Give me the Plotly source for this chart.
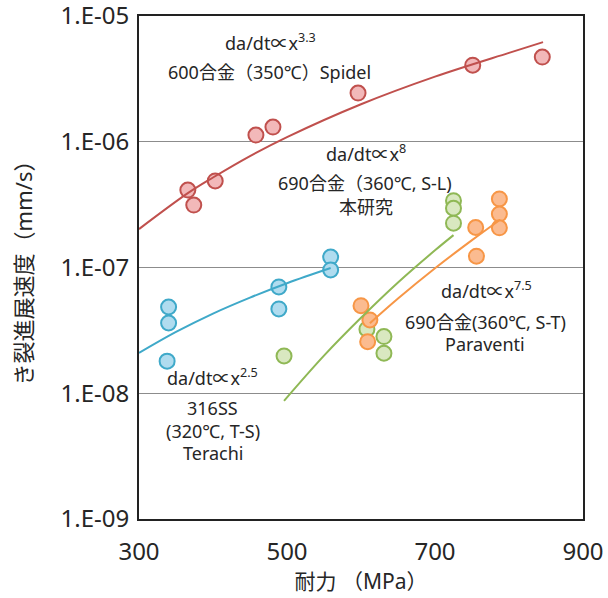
import plotly.graph_objects as go

# ---- data ----
red_x = [366, 374, 403, 458, 481, 596, 751, 845]
red_y = [4.13e-7, 3.14e-7, 4.88e-7, 1.13e-6, 1.31e-6, 2.44e-6, 4.07e-6, 4.72e-6]
red_fit_x = [300, 366, 400, 450, 500, 600, 700, 800, 846]
red_fit_y = [2.02e-7, 3.9e-7, 5.2e-7, 7.7e-7, 1.09e-6, 1.99e-6, 3.3e-6, 5.1e-6, 6.2e-6]

blue_x = [340, 340, 338, 489, 489, 559, 559]
blue_y = [4.85e-8, 3.62e-8, 1.80e-8, 7.0e-8, 4.68e-8, 1.21e-7, 9.56e-8]
blue_fit_x = [300, 350, 400, 450, 500, 559]
blue_fit_y = [2.09e-8, 3.07e-8, 4.3e-8, 5.76e-8, 7.5e-8, 9.9e-8]

green_x = [496, 608, 631, 631, 725, 725, 725]
green_y = [1.98e-8, 3.23e-8, 2.82e-8, 2.08e-8, 3.40e-7, 2.96e-7, 2.25e-7]
green_fit_x = [496, 550, 600, 650, 700, 725]
green_fit_y = [8.7e-9, 1.99e-8, 3.98e-8, 7.6e-8, 1.37e-7, 1.81e-7]

orange_x = [600, 612, 609, 756, 755, 787, 787, 787]
orange_y = [4.97e-8, 3.83e-8, 2.57e-8, 1.23e-7, 2.08e-7, 3.51e-7, 2.66e-7, 2.07e-7]
orange_fit_x = [612, 650, 700, 750, 788]
orange_fit_y = [3.6e-8, 5.66e-8, 9.86e-8, 1.65e-7, 2.4e-7]

x_ticks = [300, 500, 700, 900]
y_ticks = [1e-9, 1e-8, 1e-7, 1e-6, 1e-5]
y_tick_labels = ["1.E-09", "1.E-08", "1.E-07", "1.E-06", "1.E-05"]

FONT = "Noto Sans, Noto Sans CJK JP, sans-serif"
TXT = "#262626"

series = [
    (red_x, red_y, red_fit_x, red_fit_y, "#f2b8b9", "#c0504d"),
    (blue_x, blue_y, blue_fit_x, blue_fit_y, "#b0dcef", "#3fa9c9"),
    (green_x, green_y, green_fit_x, green_fit_y, "#d9e8c0", "#8fb855"),
    (orange_x, orange_y, orange_fit_x, orange_fit_y, "#fbbb90", "#f79646"),
]

fig = go.Figure()
for xs, ys, fx, fy, fill, edge in series:
    fig.add_trace(go.Scatter(
        x=xs, y=ys, mode="markers",
        marker=dict(size=15, color=fill, line=dict(color=edge, width=2)),
        showlegend=False, hoverinfo="skip"))
for xs, ys, fx, fy, fill, edge in series:
    fig.add_trace(go.Scatter(
        x=fx, y=fy, mode="lines", line=dict(color=edge, width=2, shape="spline"),
        showlegend=False, hoverinfo="skip"))

notes = [
    ("da/dt∝x<sup>3.3</sup>", 478, -5.207),
    ("600合金（350℃）Spidel", 476, -5.445),
    ("da/dt∝x<sup>8</sup>", 607, -6.089),
    ("690合金（360℃, S-L)", 605, -6.328),
    ("本研究", 607, -6.519),
    ("da/dt∝x<sup>7.5</sup>", 769, -7.179),
    ("690合金(360℃, S-T)", 768, -7.433),
    ("Paraventi", 768, -7.608),
    ("da/dt∝x<sup>2.5</sup>", 399, -7.871),
    ("316SS", 399, -8.117),
    ("(320℃, T-S)", 400, -8.300),
    ("Terachi", 400, -8.475),
]
for text, x, ly in notes:
    fig.add_annotation(x=x, y=ly, text=text, showarrow=False,
                       font=dict(family=FONT, size=18, color=TXT),
                       xanchor="center", yanchor="middle")

fig.update_layout(
    width=608, height=598,
    margin=dict(l=139, r=25, t=16, b=79),
    paper_bgcolor="white", plot_bgcolor="white",
    font=dict(family=FONT, color=TXT),
    xaxis=dict(range=[300, 900], tickvals=x_ticks, ticktext=[str(v) for v in x_ticks],
               automargin=False, ticklabeloverflow="allow",
               showgrid=False, zeroline=False, showline=True, mirror=True,
               linecolor="#222222", linewidth=2,
               ticks="outside", ticklen=10, tickcolor="rgba(0,0,0,0)",
               tickfont=dict(family=FONT, size=24, color=TXT),
               title=dict(text="耐力 （MPa）", font=dict(family=FONT, size=21, color=TXT), standoff=2)),
    yaxis=dict(type="log", range=[-9.0005, -4.9995], tickvals=y_ticks, ticktext=y_tick_labels,
               automargin=False, ticklabeloverflow="allow",
               showgrid=True, gridcolor="#8c8c8c", gridwidth=1, zeroline=False,
               showline=True, mirror=True, linecolor="#222222", linewidth=2,
               ticks="outside", ticklen=3, tickcolor="rgba(0,0,0,0)",
               tickfont=dict(family=FONT, size=24, color=TXT),
               title=dict(text="き裂進展速度（mm/s）", font=dict(family=FONT, size=22, color=TXT), standoff=22)),
)

fig.write_html("out.html", config={"displayModeBar": False},
               post_script="document.body.style.margin='0';")
